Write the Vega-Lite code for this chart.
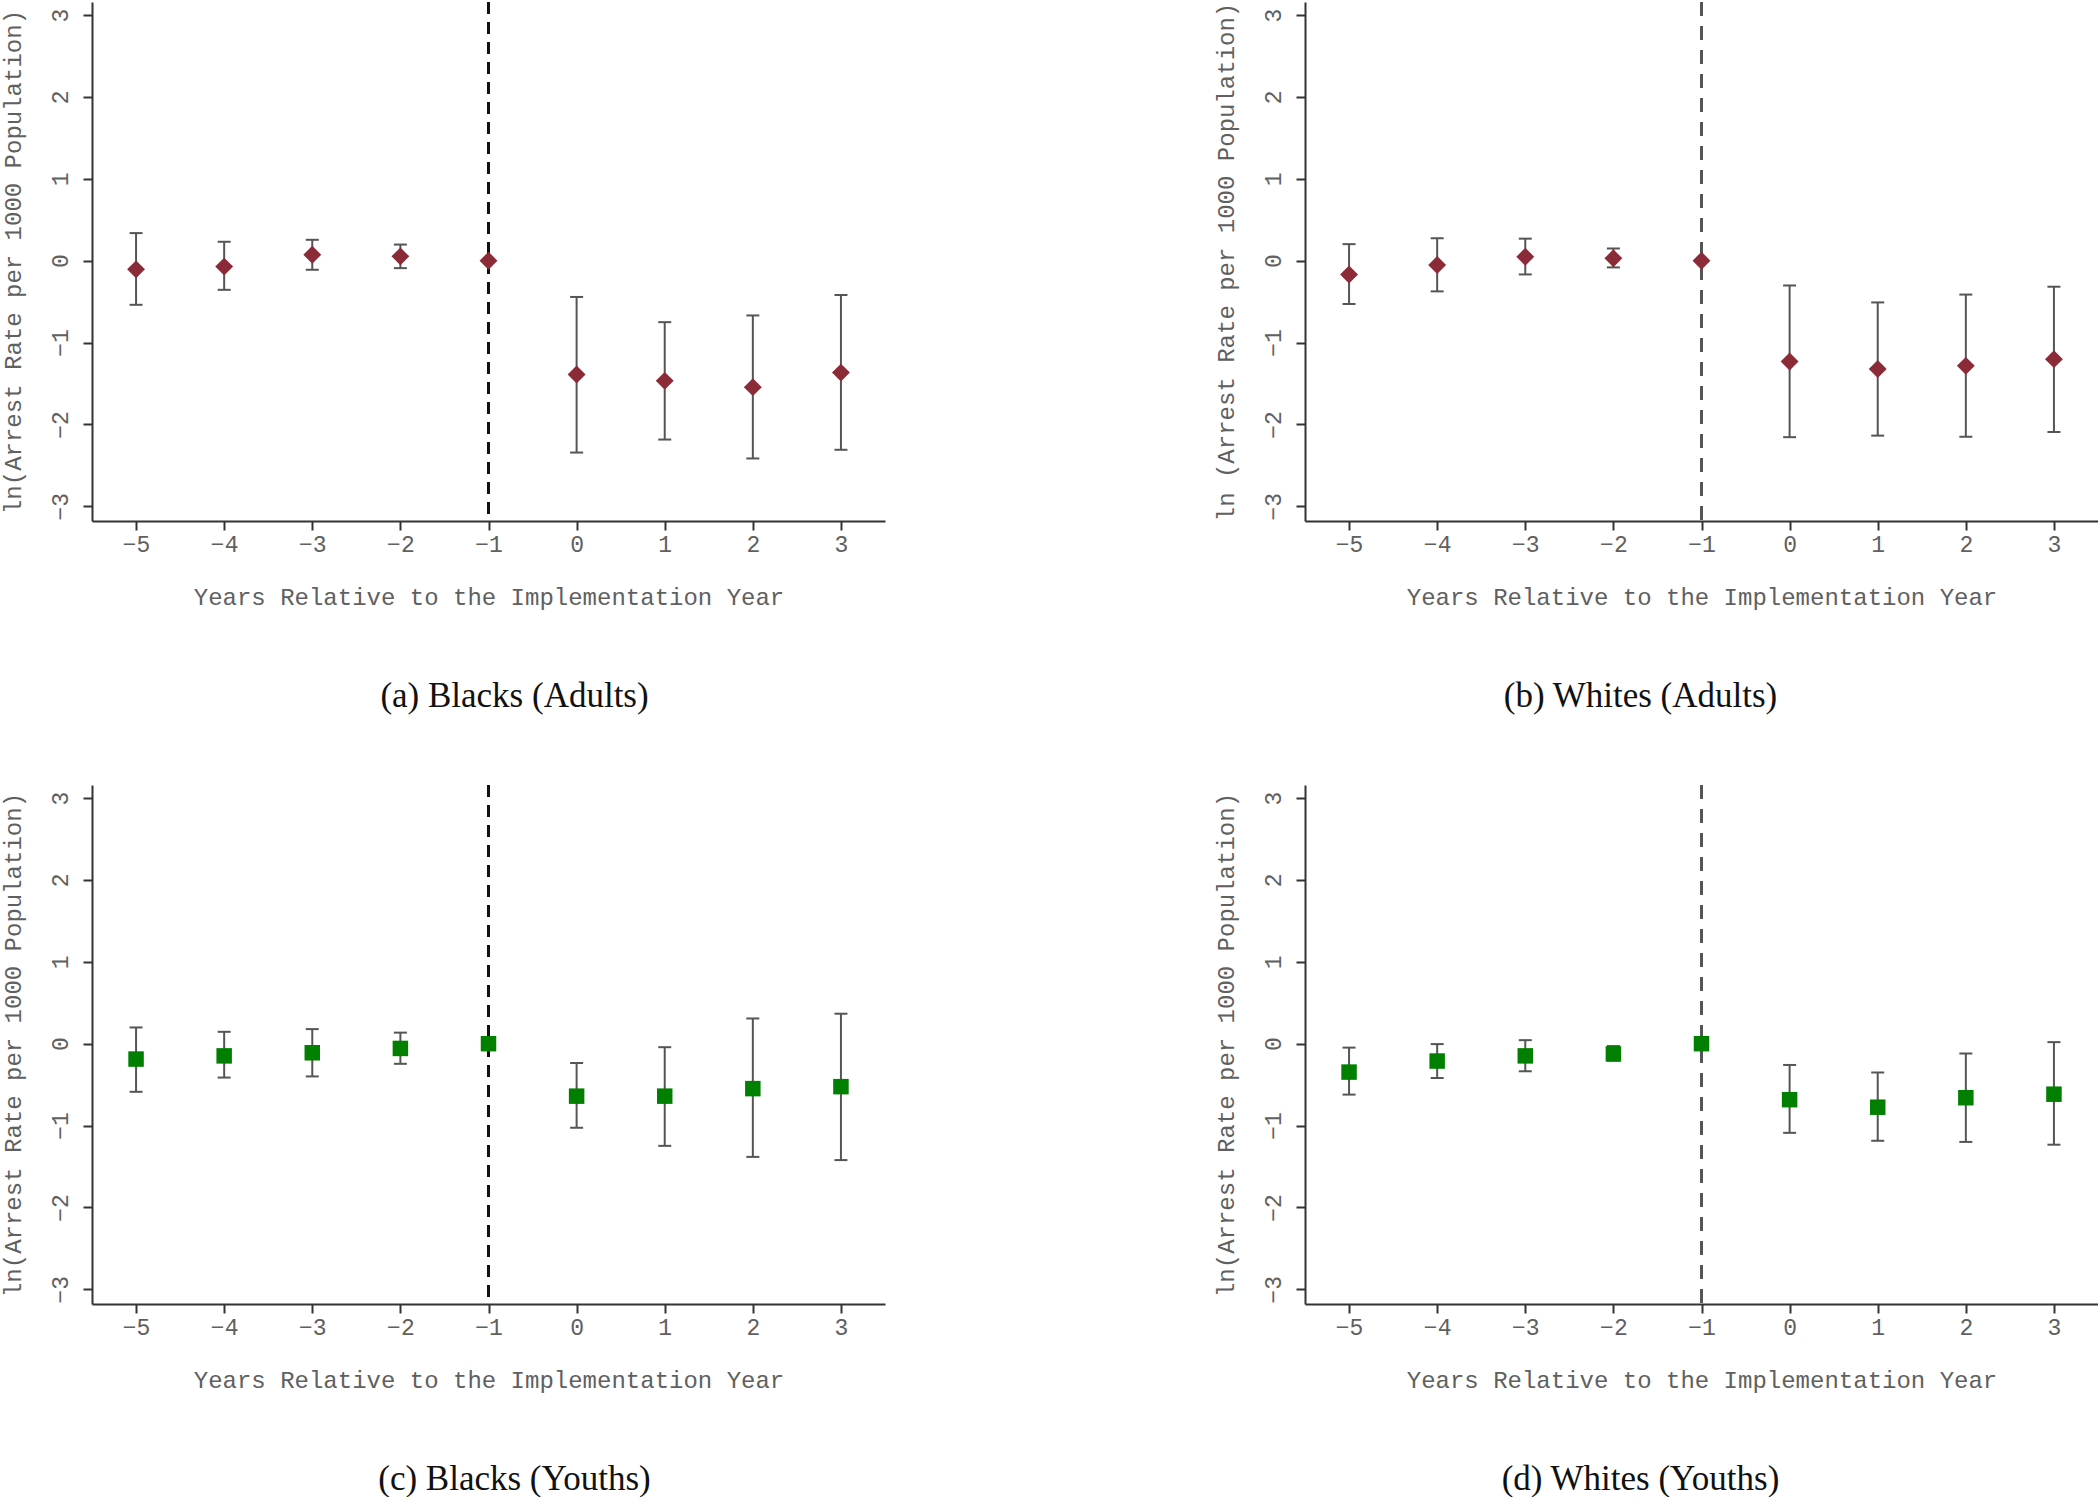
{
  "$schema": "https://vega.github.io/schema/vega-lite/v6.json",
  "background": "white",
  "padding": {"left": 0, "top": 0, "right": 0, "bottom": 0},
  "datasets": {
    "est": [
      {"panel": "a", "t": -5, "b": -0.106, "lo": -0.539, "hi": 0.337},
      {"panel": "a", "t": -4, "b": -0.072, "lo": -0.356, "hi": 0.231},
      {"panel": "a", "t": -3, "b": 0.072, "lo": -0.111, "hi": 0.255},
      {"panel": "a", "t": -2, "b": 0.053, "lo": -0.091, "hi": 0.197},
      {"panel": "a", "t": -1, "b": 0, "lo": null, "hi": null},
      {"panel": "a", "t": 0, "b": -1.391, "lo": -2.344, "hi": -0.443},
      {"panel": "a", "t": 1, "b": -1.468, "lo": -2.185, "hi": -0.751},
      {"panel": "a", "t": 2, "b": -1.545, "lo": -2.416, "hi": -0.669},
      {"panel": "a", "t": 3, "b": -1.367, "lo": -2.31, "hi": -0.419},
      {"panel": "b", "t": -5, "b": -0.168, "lo": -0.529, "hi": 0.202},
      {"panel": "b", "t": -4, "b": -0.053, "lo": -0.375, "hi": 0.274},
      {"panel": "b", "t": -3, "b": 0.048, "lo": -0.168, "hi": 0.269},
      {"panel": "b", "t": -2, "b": 0.029, "lo": -0.082, "hi": 0.149},
      {"panel": "b", "t": -1, "b": 0, "lo": null, "hi": null},
      {"panel": "b", "t": 0, "b": -1.232, "lo": -2.156, "hi": -0.303},
      {"panel": "b", "t": 1, "b": -1.323, "lo": -2.137, "hi": -0.51},
      {"panel": "b", "t": 2, "b": -1.285, "lo": -2.151, "hi": -0.414},
      {"panel": "b", "t": 3, "b": -1.203, "lo": -2.093, "hi": -0.318},
      {"panel": "c", "t": -5, "b": -0.188, "lo": -0.588, "hi": 0.198},
      {"panel": "c", "t": -4, "b": -0.149, "lo": -0.414, "hi": 0.145},
      {"panel": "c", "t": -3, "b": -0.111, "lo": -0.4, "hi": 0.178},
      {"panel": "c", "t": -2, "b": -0.058, "lo": -0.246, "hi": 0.135},
      {"panel": "c", "t": -1, "b": 0, "lo": null, "hi": null},
      {"panel": "c", "t": 0, "b": -0.641, "lo": -1.027, "hi": -0.236},
      {"panel": "c", "t": 1, "b": -0.641, "lo": -1.248, "hi": -0.043},
      {"panel": "c", "t": 2, "b": -0.549, "lo": -1.383, "hi": 0.308},
      {"panel": "c", "t": 3, "b": -0.525, "lo": -1.422, "hi": 0.366},
      {"panel": "d", "t": -5, "b": -0.347, "lo": -0.622, "hi": -0.048},
      {"panel": "d", "t": -4, "b": -0.212, "lo": -0.419, "hi": -0.005},
      {"panel": "d", "t": -3, "b": -0.149, "lo": -0.337, "hi": 0.043},
      {"panel": "d", "t": -2, "b": -0.125, "lo": -0.207, "hi": -0.029},
      {"panel": "d", "t": -1, "b": 0, "lo": null, "hi": null},
      {"panel": "d", "t": 0, "b": -0.684, "lo": -1.089, "hi": -0.26},
      {"panel": "d", "t": 1, "b": -0.776, "lo": -1.186, "hi": -0.352},
      {"panel": "d", "t": 2, "b": -0.66, "lo": -1.2, "hi": -0.12},
      {"panel": "d", "t": 3, "b": -0.617, "lo": -1.234, "hi": 0.019}
    ]
  },
  "data": {"name": "est"},
  "columns": 2,
  "spacing": {"row": 69, "column": 328},
  "concat": [
    {
      "width": 793, "height": 519,
      "title": {"text": "(a) Blacks (Adults)", "dx": 26},
      "transform": [{"filter": "datum.panel == 'a'"}],
      "encoding": {"x": {"field": "t", "type": "quantitative", "scale": {"domain": [-5.5, 3.5], "nice": false, "zero": false}, "axis": {"values": [-5, -4, -3, -2, -1, 0, 1, 2, 3], "grid": false, "format": "d"}, "title": "Years Relative to the Implementation Year"}},
      "layer": [
        {"mark": {"type": "rule", "color": "#C8143C", "strokeWidth": 2.5}, "encoding": {"y": {"datum": 0, "type": "quantitative", "scale": {"domain": [-3.18, 3.16], "nice": false, "zero": false}, "title": "ln(Arrest Rate per 1000 Population)"}}},
        {"mark": {"type": "rule", "color": "#111111", "strokeWidth": 2.5, "strokeDash": [12, 8]}, "encoding": {"x": {"datum": -1, "type": "quantitative", "scale": {"domain": [-5.5, 3.5], "nice": false, "zero": false}, "title": "Years Relative to the Implementation Year"}}},
        {"mark": {"type": "rule", "color": "#555555", "strokeWidth": 2}, "encoding": {"y": {"field": "lo", "type": "quantitative", "scale": {"domain": [-3.18, 3.16], "nice": false, "zero": false}, "title": "ln(Arrest Rate per 1000 Population)"}, "y2": {"field": "hi"}}},
        {"mark": {"type": "tick", "orient": "horizontal", "color": "#555555", "thickness": 2, "size": 13, "opacity": 1}, "encoding": {"y": {"field": "lo", "type": "quantitative", "scale": {"domain": [-3.18, 3.16], "nice": false, "zero": false}, "title": "ln(Arrest Rate per 1000 Population)"}}},
        {"mark": {"type": "tick", "orient": "horizontal", "color": "#555555", "thickness": 2, "size": 13, "opacity": 1}, "encoding": {"y": {"field": "hi", "type": "quantitative", "scale": {"domain": [-3.18, 3.16], "nice": false, "zero": false}, "title": "ln(Arrest Rate per 1000 Population)"}}},
        {"mark": {"type": "point", "shape": "diamond", "filled": true, "size": 320, "color": "#8B2B38", "opacity": 1}, "encoding": {"y": {"field": "b", "type": "quantitative", "scale": {"domain": [-3.18, 3.16], "nice": false, "zero": false}, "axis": {"values": [-3, -2, -1, 0, 1, 2, 3], "format": "d"}, "title": "ln(Arrest Rate per 1000 Population)"}}}
      ]
    },
    {
      "width": 793, "height": 519,
      "title": {"text": "(b) Whites (Adults)", "dx": -61},
      "transform": [{"filter": "datum.panel == 'b'"}],
      "encoding": {"x": {"field": "t", "type": "quantitative", "scale": {"domain": [-5.5, 3.5], "nice": false, "zero": false}, "axis": {"values": [-5, -4, -3, -2, -1, 0, 1, 2, 3], "grid": false, "format": "d"}, "title": "Years Relative to the Implementation Year"}},
      "layer": [
        {"mark": {"type": "rule", "color": "#C8143C", "strokeWidth": 2.5}, "encoding": {"y": {"datum": 0, "type": "quantitative", "scale": {"domain": [-3.18, 3.16], "nice": false, "zero": false}, "title": "ln (Arrest Rate per 1000 Population)"}}},
        {"mark": {"type": "rule", "color": "#555555", "strokeWidth": 3, "strokeDash": [14, 10]}, "encoding": {"x": {"datum": -1, "type": "quantitative", "scale": {"domain": [-5.5, 3.5], "nice": false, "zero": false}, "title": "Years Relative to the Implementation Year"}}},
        {"mark": {"type": "rule", "color": "#555555", "strokeWidth": 2}, "encoding": {"y": {"field": "lo", "type": "quantitative", "scale": {"domain": [-3.18, 3.16], "nice": false, "zero": false}, "title": "ln (Arrest Rate per 1000 Population)"}, "y2": {"field": "hi"}}},
        {"mark": {"type": "tick", "orient": "horizontal", "color": "#555555", "thickness": 2, "size": 13, "opacity": 1}, "encoding": {"y": {"field": "lo", "type": "quantitative", "scale": {"domain": [-3.18, 3.16], "nice": false, "zero": false}, "title": "ln (Arrest Rate per 1000 Population)"}}},
        {"mark": {"type": "tick", "orient": "horizontal", "color": "#555555", "thickness": 2, "size": 13, "opacity": 1}, "encoding": {"y": {"field": "hi", "type": "quantitative", "scale": {"domain": [-3.18, 3.16], "nice": false, "zero": false}, "title": "ln (Arrest Rate per 1000 Population)"}}},
        {"mark": {"type": "point", "shape": "diamond", "filled": true, "size": 320, "color": "#8B2B38", "opacity": 1}, "encoding": {"y": {"field": "b", "type": "quantitative", "scale": {"domain": [-3.18, 3.16], "nice": false, "zero": false}, "axis": {"values": [-3, -2, -1, 0, 1, 2, 3], "format": "d"}, "title": "ln (Arrest Rate per 1000 Population)"}}}
      ]
    },
    {
      "width": 793, "height": 519,
      "title": {"text": "(c) Blacks (Youths)", "dx": 26},
      "transform": [{"filter": "datum.panel == 'c'"}],
      "encoding": {"x": {"field": "t", "type": "quantitative", "scale": {"domain": [-5.5, 3.5], "nice": false, "zero": false}, "axis": {"values": [-5, -4, -3, -2, -1, 0, 1, 2, 3], "grid": false, "format": "d"}, "title": "Years Relative to the Implementation Year"}},
      "layer": [
        {"mark": {"type": "rule", "color": "#D0102C", "strokeWidth": 2.5}, "encoding": {"y": {"datum": 0, "type": "quantitative", "scale": {"domain": [-3.18, 3.16], "nice": false, "zero": false}, "title": "ln(Arrest Rate per 1000 Population)"}}},
        {"mark": {"type": "rule", "color": "#111111", "strokeWidth": 2.5, "strokeDash": [12, 8]}, "encoding": {"x": {"datum": -1, "type": "quantitative", "scale": {"domain": [-5.5, 3.5], "nice": false, "zero": false}, "title": "Years Relative to the Implementation Year"}}},
        {"mark": {"type": "rule", "color": "#555555", "strokeWidth": 2}, "encoding": {"y": {"field": "lo", "type": "quantitative", "scale": {"domain": [-3.18, 3.16], "nice": false, "zero": false}, "title": "ln(Arrest Rate per 1000 Population)"}, "y2": {"field": "hi"}}},
        {"mark": {"type": "tick", "orient": "horizontal", "color": "#555555", "thickness": 2, "size": 13, "opacity": 1}, "encoding": {"y": {"field": "lo", "type": "quantitative", "scale": {"domain": [-3.18, 3.16], "nice": false, "zero": false}, "title": "ln(Arrest Rate per 1000 Population)"}}},
        {"mark": {"type": "tick", "orient": "horizontal", "color": "#555555", "thickness": 2, "size": 13, "opacity": 1}, "encoding": {"y": {"field": "hi", "type": "quantitative", "scale": {"domain": [-3.18, 3.16], "nice": false, "zero": false}, "title": "ln(Arrest Rate per 1000 Population)"}}},
        {"mark": {"type": "point", "shape": "square", "filled": true, "size": 240, "color": "#007F00", "opacity": 1}, "encoding": {"y": {"field": "b", "type": "quantitative", "scale": {"domain": [-3.18, 3.16], "nice": false, "zero": false}, "axis": {"values": [-3, -2, -1, 0, 1, 2, 3], "format": "d"}, "title": "ln(Arrest Rate per 1000 Population)"}}}
      ]
    },
    {
      "width": 793, "height": 519,
      "title": {"text": "(d) Whites (Youths)", "dx": -61},
      "transform": [{"filter": "datum.panel == 'd'"}],
      "encoding": {"x": {"field": "t", "type": "quantitative", "scale": {"domain": [-5.5, 3.5], "nice": false, "zero": false}, "axis": {"values": [-5, -4, -3, -2, -1, 0, 1, 2, 3], "grid": false, "format": "d"}, "title": "Years Relative to the Implementation Year"}},
      "layer": [
        {"mark": {"type": "rule", "color": "#D0102C", "strokeWidth": 2.5}, "encoding": {"y": {"datum": 0, "type": "quantitative", "scale": {"domain": [-3.18, 3.16], "nice": false, "zero": false}, "title": "ln(Arrest Rate per 1000 Population)"}}},
        {"mark": {"type": "rule", "color": "#555555", "strokeWidth": 3, "strokeDash": [14, 10]}, "encoding": {"x": {"datum": -1, "type": "quantitative", "scale": {"domain": [-5.5, 3.5], "nice": false, "zero": false}, "title": "Years Relative to the Implementation Year"}}},
        {"mark": {"type": "rule", "color": "#555555", "strokeWidth": 2}, "encoding": {"y": {"field": "lo", "type": "quantitative", "scale": {"domain": [-3.18, 3.16], "nice": false, "zero": false}, "title": "ln(Arrest Rate per 1000 Population)"}, "y2": {"field": "hi"}}},
        {"mark": {"type": "tick", "orient": "horizontal", "color": "#555555", "thickness": 2, "size": 13, "opacity": 1}, "encoding": {"y": {"field": "lo", "type": "quantitative", "scale": {"domain": [-3.18, 3.16], "nice": false, "zero": false}, "title": "ln(Arrest Rate per 1000 Population)"}}},
        {"mark": {"type": "tick", "orient": "horizontal", "color": "#555555", "thickness": 2, "size": 13, "opacity": 1}, "encoding": {"y": {"field": "hi", "type": "quantitative", "scale": {"domain": [-3.18, 3.16], "nice": false, "zero": false}, "title": "ln(Arrest Rate per 1000 Population)"}}},
        {"mark": {"type": "point", "shape": "square", "filled": true, "size": 240, "color": "#007F00", "opacity": 1}, "encoding": {"y": {"field": "b", "type": "quantitative", "scale": {"domain": [-3.18, 3.16], "nice": false, "zero": false}, "axis": {"values": [-3, -2, -1, 0, 1, 2, 3], "format": "d"}, "title": "ln(Arrest Rate per 1000 Population)"}}}
      ]
    }
  ],
  "config": {
    "view": {"stroke": null},
    "font": "Liberation Mono",
    "axis": {
      "labelFont": "Liberation Mono", "titleFont": "Liberation Mono",
      "labelFontSize": 23, "titleFontSize": 24, "titleFontWeight": "normal",
      "labelColor": "#606060", "titleColor": "#606060",
      "domainColor": "#333333", "domainWidth": 2,
      "tickColor": "#333333", "tickWidth": 2, "tickSize": 9,
      "gridColor": "#E6EEF0", "gridWidth": 2,
      "labelFlush": false, "labelOverlap": false
    },
    "axisX": {"labelPadding": 3, "titlePadding": 29},
    "axisY": {"labelAngle": -90, "labelPadding": 11, "titlePadding": 24},
    "title": {"orient": "bottom", "anchor": "middle", "frame": "group", "offset": 70, "font": "Liberation Serif", "fontSize": 35, "fontWeight": "normal", "color": "#111111"}
  }
}
